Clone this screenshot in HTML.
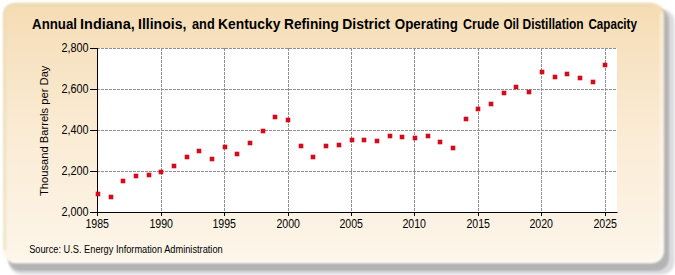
<!DOCTYPE html>
<html><head><meta charset="utf-8"><style>
html,body{margin:0;padding:0;background:#fff;width:675px;height:275px;overflow:hidden}
svg{display:block}
text{font-family:"Liberation Sans",sans-serif}
</style></head><body>
<svg width="675" height="275" viewBox="0 0 675 275">
<defs>
<linearGradient id="bg" x1="0" y1="0" x2="0" y2="1">
<stop offset="0" stop-color="#F5DCB2"/>
<stop offset="0.15" stop-color="#F7E1BF"/>
<stop offset="0.5" stop-color="#FAEBD4"/>
<stop offset="1" stop-color="#FEF6EA"/>
</linearGradient>
<filter id="sh" x="-5%" y="-5%" width="110%" height="115%"><feGaussianBlur stdDeviation="1.3"/></filter>
<filter id="sh2" x="-5%" y="-5%" width="110%" height="115%"><feGaussianBlur stdDeviation="1.2"/></filter>
<filter id="soft" x="-5%" y="-5%" width="110%" height="110%"><feGaussianBlur stdDeviation="0.8"/></filter>
</defs>
<rect x="9" y="9" width="665.5" height="265.5" rx="13" ry="13" fill="#DCDCE0" filter="url(#sh2)"/>
<rect x="8" y="8" width="661" height="263" rx="13" ry="13" fill="#B3B3B3" filter="url(#sh)"/>
<rect x="3" y="3" width="661" height="260" rx="12" ry="12" fill="url(#bg)" filter="url(#soft)"/>
<path d="M4.8,250 L4.8,15 Q4.8,4.8 15,4.8 L652,4.8" fill="none" stroke="#E4DCB8" stroke-opacity="0.7" stroke-width="2.4" filter="url(#soft)"/>
<path d="M661.5,12 L661.5,249 Q661.5,261.5 649,261.5 L12,261.5" fill="none" stroke="#FFFFFF" stroke-opacity="0.55" stroke-width="2.5" filter="url(#soft)"/>
<rect x="98" y="48" width="519" height="164" fill="#ffffff"/>

<line x1="161.5" y1="48" x2="161.5" y2="212" stroke="#909090" stroke-width="1" stroke-dasharray="3,1"/>
<line x1="224.5" y1="48" x2="224.5" y2="212" stroke="#909090" stroke-width="1" stroke-dasharray="3,1"/>
<line x1="288.5" y1="48" x2="288.5" y2="212" stroke="#909090" stroke-width="1" stroke-dasharray="3,1"/>
<line x1="351.5" y1="48" x2="351.5" y2="212" stroke="#909090" stroke-width="1" stroke-dasharray="3,1"/>
<line x1="414.5" y1="48" x2="414.5" y2="212" stroke="#909090" stroke-width="1" stroke-dasharray="3,1"/>
<line x1="478.5" y1="48" x2="478.5" y2="212" stroke="#909090" stroke-width="1" stroke-dasharray="3,1"/>
<line x1="541.5" y1="48" x2="541.5" y2="212" stroke="#909090" stroke-width="1" stroke-dasharray="3,1"/>
<line x1="605.5" y1="48" x2="605.5" y2="212" stroke="#909090" stroke-width="1" stroke-dasharray="3,1"/>
<line x1="97" y1="48.5" x2="617" y2="48.5" stroke="#909090" stroke-width="1" stroke-dasharray="3,1"/>
<line x1="97" y1="89.5" x2="617" y2="89.5" stroke="#909090" stroke-width="1" stroke-dasharray="3,1"/>
<line x1="97" y1="130.5" x2="617" y2="130.5" stroke="#909090" stroke-width="1" stroke-dasharray="3,1"/>
<line x1="97" y1="171.5" x2="617" y2="171.5" stroke="#909090" stroke-width="1" stroke-dasharray="3,1"/>
<line x1="97.5" y1="48" x2="97.5" y2="213" stroke="#000" stroke-width="1"/>
<line x1="97" y1="212.5" x2="617.5" y2="212.5" stroke="#000" stroke-width="1"/>
<line x1="90" y1="48.5" x2="97" y2="48.5" stroke="#000" stroke-width="1"/>
<line x1="90" y1="89.5" x2="97" y2="89.5" stroke="#000" stroke-width="1"/>
<line x1="90" y1="130.5" x2="97" y2="130.5" stroke="#000" stroke-width="1"/>
<line x1="90" y1="171.5" x2="97" y2="171.5" stroke="#000" stroke-width="1"/>
<line x1="90" y1="212.5" x2="97" y2="212.5" stroke="#000" stroke-width="1"/>
<line x1="97.5" y1="212" x2="97.5" y2="216" stroke="#000" stroke-width="1"/>
<line x1="161.5" y1="212" x2="161.5" y2="216" stroke="#000" stroke-width="1"/>
<line x1="224.5" y1="212" x2="224.5" y2="216" stroke="#000" stroke-width="1"/>
<line x1="288.5" y1="212" x2="288.5" y2="216" stroke="#000" stroke-width="1"/>
<line x1="351.5" y1="212" x2="351.5" y2="216" stroke="#000" stroke-width="1"/>
<line x1="414.5" y1="212" x2="414.5" y2="216" stroke="#000" stroke-width="1"/>
<line x1="478.5" y1="212" x2="478.5" y2="216" stroke="#000" stroke-width="1"/>
<line x1="541.5" y1="212" x2="541.5" y2="216" stroke="#000" stroke-width="1"/>
<line x1="605.5" y1="212" x2="605.5" y2="216" stroke="#000" stroke-width="1"/>
<rect x="95.7" y="191.7" width="4.6" height="4.6" fill="#D00C1E"/>
<rect x="108.7" y="194.7" width="4.6" height="4.6" fill="#D00C1E"/>
<rect x="120.7" y="178.7" width="4.6" height="4.6" fill="#D00C1E"/>
<rect x="133.7" y="173.7" width="4.6" height="4.6" fill="#D00C1E"/>
<rect x="146.7" y="172.7" width="4.6" height="4.6" fill="#D00C1E"/>
<rect x="158.7" y="169.7" width="4.6" height="4.6" fill="#D00C1E"/>
<rect x="171.7" y="163.7" width="4.6" height="4.6" fill="#D00C1E"/>
<rect x="184.7" y="154.7" width="4.6" height="4.6" fill="#D00C1E"/>
<rect x="196.7" y="148.7" width="4.6" height="4.6" fill="#D00C1E"/>
<rect x="209.7" y="156.7" width="4.6" height="4.6" fill="#D00C1E"/>
<rect x="222.7" y="144.7" width="4.6" height="4.6" fill="#D00C1E"/>
<rect x="234.7" y="151.7" width="4.6" height="4.6" fill="#D00C1E"/>
<rect x="247.7" y="140.7" width="4.6" height="4.6" fill="#D00C1E"/>
<rect x="260.7" y="128.7" width="4.6" height="4.6" fill="#D00C1E"/>
<rect x="272.7" y="114.7" width="4.6" height="4.6" fill="#D00C1E"/>
<rect x="285.7" y="117.7" width="4.6" height="4.6" fill="#D00C1E"/>
<rect x="298.7" y="143.7" width="4.6" height="4.6" fill="#D00C1E"/>
<rect x="310.7" y="154.7" width="4.6" height="4.6" fill="#D00C1E"/>
<rect x="323.7" y="143.7" width="4.6" height="4.6" fill="#D00C1E"/>
<rect x="336.7" y="142.7" width="4.6" height="4.6" fill="#D00C1E"/>
<rect x="349.7" y="137.7" width="4.6" height="4.6" fill="#D00C1E"/>
<rect x="361.7" y="137.7" width="4.6" height="4.6" fill="#D00C1E"/>
<rect x="374.7" y="138.7" width="4.6" height="4.6" fill="#D00C1E"/>
<rect x="387.7" y="133.7" width="4.6" height="4.6" fill="#D00C1E"/>
<rect x="399.7" y="134.7" width="4.6" height="4.6" fill="#D00C1E"/>
<rect x="412.7" y="135.7" width="4.6" height="4.6" fill="#D00C1E"/>
<rect x="425.7" y="133.7" width="4.6" height="4.6" fill="#D00C1E"/>
<rect x="437.7" y="139.7" width="4.6" height="4.6" fill="#D00C1E"/>
<rect x="450.7" y="145.7" width="4.6" height="4.6" fill="#D00C1E"/>
<rect x="463.7" y="116.7" width="4.6" height="4.6" fill="#D00C1E"/>
<rect x="475.7" y="106.7" width="4.6" height="4.6" fill="#D00C1E"/>
<rect x="488.7" y="101.7" width="4.6" height="4.6" fill="#D00C1E"/>
<rect x="501.7" y="90.7" width="4.6" height="4.6" fill="#D00C1E"/>
<rect x="513.7" y="84.7" width="4.6" height="4.6" fill="#D00C1E"/>
<rect x="526.7" y="89.7" width="4.6" height="4.6" fill="#D00C1E"/>
<rect x="539.7" y="69.7" width="4.6" height="4.6" fill="#D00C1E"/>
<rect x="552.7" y="74.7" width="4.6" height="4.6" fill="#D00C1E"/>
<rect x="564.7" y="71.7" width="4.6" height="4.6" fill="#D00C1E"/>
<rect x="577.7" y="75.7" width="4.6" height="4.6" fill="#D00C1E"/>
<rect x="590.7" y="79.7" width="4.6" height="4.6" fill="#D00C1E"/>
<rect x="602.7" y="62.7" width="4.6" height="4.6" fill="#D00C1E"/>
<g font-size="14" font-weight="bold" fill="#000">
<text x="32.1" y="28.6" textLength="44.95" lengthAdjust="spacingAndGlyphs">Annual</text>
<text x="80.1" y="28.6" textLength="54.61" lengthAdjust="spacingAndGlyphs">Indiana,</text>
<text x="138.0" y="28.6" textLength="48.43" lengthAdjust="spacingAndGlyphs">Illinois,</text>
<text x="192.0" y="28.6" textLength="22.69" lengthAdjust="spacingAndGlyphs">and</text>
<text x="218.1" y="28.6" textLength="62.23" lengthAdjust="spacingAndGlyphs">Kentucky</text>
<text x="284.0" y="28.6" textLength="54.8" lengthAdjust="spacingAndGlyphs">Refining</text>
<text x="342.3" y="28.6" textLength="47.93" lengthAdjust="spacingAndGlyphs">District</text>
<text x="394.8" y="28.6" textLength="63.12" lengthAdjust="spacingAndGlyphs">Operating</text>
<text x="463.1" y="28.6" textLength="36.05" lengthAdjust="spacingAndGlyphs">Crude</text>
<text x="503.5" y="28.6" textLength="15.57" lengthAdjust="spacingAndGlyphs">Oil</text>
<text x="522.5" y="28.6" textLength="61.16" lengthAdjust="spacingAndGlyphs">Distillation</text>
<text x="588.4" y="28.6" textLength="48.56" lengthAdjust="spacingAndGlyphs">Capacity</text>
</g>
<g font-size="12" fill="#000">
<text x="88.6" y="52" text-anchor="end" textLength="27.2" lengthAdjust="spacingAndGlyphs">2,800</text>
<text x="88.6" y="93" text-anchor="end" textLength="27.2" lengthAdjust="spacingAndGlyphs">2,600</text>
<text x="88.6" y="134" text-anchor="end" textLength="27.2" lengthAdjust="spacingAndGlyphs">2,400</text>
<text x="88.6" y="175" text-anchor="end" textLength="27.2" lengthAdjust="spacingAndGlyphs">2,200</text>
<text x="88.6" y="216" text-anchor="end" textLength="27.2" lengthAdjust="spacingAndGlyphs">2,000</text>
<text x="97.2" y="228" text-anchor="middle" textLength="23.6" lengthAdjust="spacingAndGlyphs">1985</text>
<text x="161.2" y="228" text-anchor="middle" textLength="23.6" lengthAdjust="spacingAndGlyphs">1990</text>
<text x="224.2" y="228" text-anchor="middle" textLength="23.6" lengthAdjust="spacingAndGlyphs">1995</text>
<text x="288.2" y="228" text-anchor="middle" textLength="23.6" lengthAdjust="spacingAndGlyphs">2000</text>
<text x="351.2" y="228" text-anchor="middle" textLength="23.6" lengthAdjust="spacingAndGlyphs">2005</text>
<text x="414.2" y="228" text-anchor="middle" textLength="23.6" lengthAdjust="spacingAndGlyphs">2010</text>
<text x="478.2" y="228" text-anchor="middle" textLength="23.6" lengthAdjust="spacingAndGlyphs">2015</text>
<text x="541.2" y="228" text-anchor="middle" textLength="23.6" lengthAdjust="spacingAndGlyphs">2020</text>
<text x="605.2" y="228" text-anchor="middle" textLength="23.6" lengthAdjust="spacingAndGlyphs">2025</text>
</g>
<text transform="translate(47.6,130.8) rotate(-90)" font-size="11.2" text-anchor="middle" fill="#000" textLength="130.5" lengthAdjust="spacingAndGlyphs">Thousand Barrels per Day</text>
<text x="29.2" y="253" font-size="10" fill="#000" textLength="193.5" lengthAdjust="spacingAndGlyphs">Source: U.S. Energy Information Administration</text>
</svg></body></html>
